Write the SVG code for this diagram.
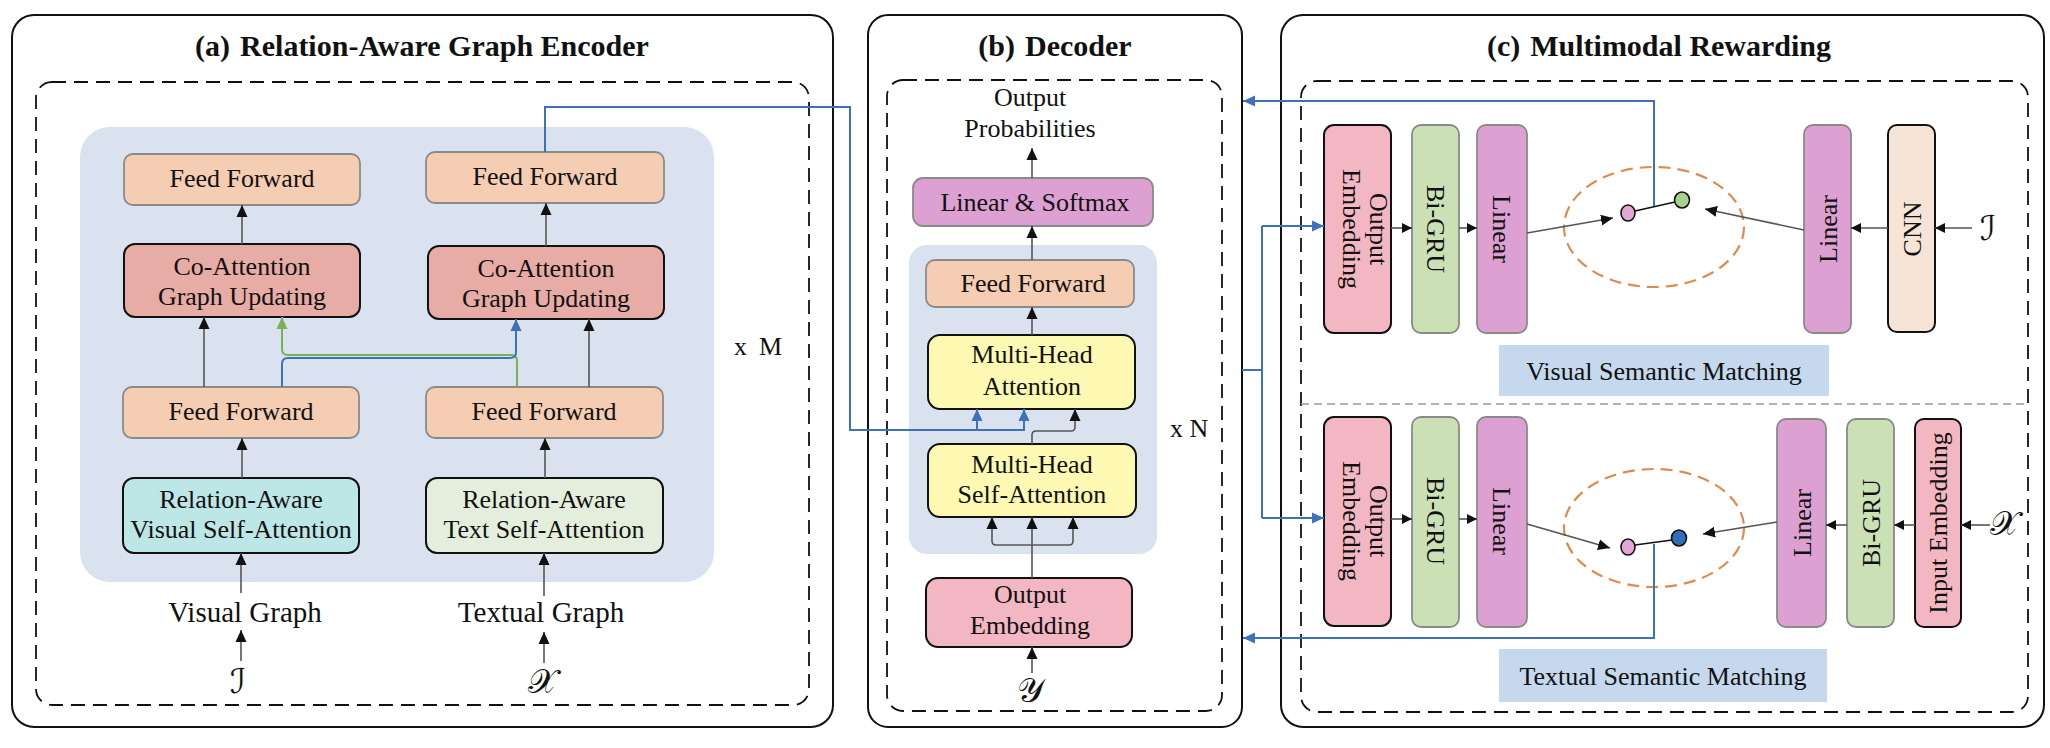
<svg xmlns="http://www.w3.org/2000/svg" width="2050" height="748" viewBox="0 0 2050 748">
<defs>
<style>
.t{font-family:"Liberation Serif","Times New Roman",serif;font-size:26px;fill:#111;text-anchor:middle}
.tl{font-family:"Liberation Serif","Times New Roman",serif;font-size:29px;fill:#111;text-anchor:middle}
.title{font-family:"Liberation Serif","Times New Roman",serif;font-size:30px;font-weight:bold;fill:#111;text-anchor:middle}
.m{font-family:"DejaVu Serif","DejaVu Sans","Noto Sans",serif;font-size:34px;fill:#111;text-anchor:middle}
.outer{fill:#fff;stroke:#111;stroke-width:2}
.dash{fill:none;stroke:#111;stroke-width:1.8;stroke-dasharray:14 8}
.sep{fill:none;stroke:#999;stroke-width:1.6;stroke-dasharray:8 5}
.bg{fill:#dae2f0}
.ff{fill:#f4cdb2;stroke:#8a8a8a;stroke-width:1.8}
.co{fill:#e8aca6;stroke:#111;stroke-width:2}
.rv{fill:#bde6e6;stroke:#111;stroke-width:2}
.rt{fill:#e4eedc;stroke:#111;stroke-width:2}
.ls{fill:#dda0d2;stroke:#8a8a8a;stroke-width:1.8}
.ye{fill:#fdf9b2;stroke:#111;stroke-width:2}
.oe{fill:#f3b7c3;stroke:#111;stroke-width:2}
.gru{fill:#cce0b6;stroke:#8a8a8a;stroke-width:1.8}
.cnn{fill:#f6e4d6;stroke:#111;stroke-width:2}
.lab{fill:#c5d8ee}
.ln{fill:none;stroke:#555;stroke-width:1.6}
.bl{fill:none;stroke:#3b72b9;stroke-width:2}
.gr{fill:none;stroke:#79b158;stroke-width:2}
.ell{fill:none;stroke:#e08b4d;stroke-width:2.2;stroke-dasharray:12 7}
.dot{stroke:#111;stroke-width:1.6}
</style>
<marker id="ab" viewBox="0 0 12 12" refX="12" refY="6" markerWidth="12" markerHeight="12" markerUnits="userSpaceOnUse" orient="auto"><path d="M0,0.5 L12,6 L0,11.5 z" fill="#111"/></marker>
<marker id="as" viewBox="0 0 10 10" refX="10" refY="5" markerWidth="10" markerHeight="10" markerUnits="userSpaceOnUse" orient="auto"><path d="M0,0 L10,5 L0,10 z" fill="#111"/></marker>
<marker id="abl" viewBox="0 0 12 12" refX="12" refY="6" markerWidth="12" markerHeight="12" markerUnits="userSpaceOnUse" orient="auto"><path d="M0,0.5 L12,6 L0,11.5 z" fill="#3b72b9"/></marker>
<marker id="agr" viewBox="0 0 12 12" refX="12" refY="6" markerWidth="12" markerHeight="12" markerUnits="userSpaceOnUse" orient="auto"><path d="M0,0.5 L12,6 L0,11.5 z" fill="#79b158"/></marker>
</defs>
<rect width="2050" height="748" fill="#fff"/>

<!-- Panel frames -->
<g id="panel-a">
<rect class="outer" x="12" y="15" width="821" height="712" rx="22"/>
<text class="title" x="422" y="56">(a)<tspan dx="10">Relation-Aware Graph Encoder</tspan></text>
<rect class="dash" x="36" y="82" width="773" height="623" rx="16"/>
<rect class="bg" x="80" y="127" width="634" height="455" rx="30"/>
<text class="t" x="734" y="355" style="text-anchor:start">x<tspan dx="12">M</tspan></text>
</g>
<g id="panel-b">
<rect class="outer" x="868" y="15" width="374" height="712" rx="20"/>
<text class="title" x="1055" y="56">(b)<tspan dx="10">Decoder</tspan></text>
<rect class="dash" x="887" y="80" width="335" height="631" rx="16"/>
<rect class="bg" x="909" y="245" width="248" height="309" rx="18"/>
<text class="t" x="1170" y="437" style="text-anchor:start">x N</text>
</g>
<g id="panel-c">
<rect class="outer" x="1281" y="15" width="763" height="712" rx="22"/>
<text class="title" x="1659" y="56">(c)<tspan dx="10">Multimodal Rewarding</tspan></text>
<rect class="dash" x="1301" y="81" width="727" height="631" rx="16"/>
<path class="sep" d="M1301,404 H2028"/>
</g>

<!-- Encoder nodes -->
<g id="enc-ff-top-left"><rect class="ff" x="124" y="154" width="236" height="51" rx="9"/><text class="t" x="242" y="187">Feed Forward</text></g>
<g id="enc-ff-top-right"><rect class="ff" x="426" y="152" width="238" height="51" rx="9"/><text class="t" x="545" y="185">Feed Forward</text></g>
<g id="enc-coatt-left"><rect class="co" x="124" y="244" width="236" height="73" rx="11"/><text class="t" x="242" y="275">Co-Attention</text><text class="t" x="242" y="305">Graph Updating</text></g>
<g id="enc-coatt-right"><rect class="co" x="428" y="246" width="236" height="73" rx="11"/><text class="t" x="546" y="277">Co-Attention</text><text class="t" x="546" y="307">Graph Updating</text></g>
<g id="enc-ff-mid-left"><rect class="ff" x="123" y="387" width="236" height="51" rx="9"/><text class="t" x="241" y="420">Feed Forward</text></g>
<g id="enc-ff-mid-right"><rect class="ff" x="426" y="387" width="237" height="51" rx="9"/><text class="t" x="544" y="420">Feed Forward</text></g>
<g id="enc-ra-visual"><rect class="rv" x="123" y="478" width="236" height="75" rx="11"/><text class="t" x="241" y="508">Relation-Aware</text><text class="t" x="241" y="538">Visual Self-Attention</text></g>
<g id="enc-ra-text"><rect class="rt" x="426" y="478" width="237" height="75" rx="11"/><text class="t" x="544" y="508">Relation-Aware</text><text class="t" x="544" y="538">Text Self-Attention</text></g>
<g id="enc-visual-graph"><text class="tl" x="245" y="622">Visual Graph</text></g>
<g id="enc-textual-graph"><text class="tl" x="541" y="622">Textual Graph</text></g>
<g id="enc-I"><text class="m" x="238" y="693">ℐ</text></g>
<g id="enc-X"><text class="m" x="542" y="693">𝒳</text></g>

<!-- Decoder nodes -->
<g id="dec-output-prob"><text class="t" x="1030" y="106">Output</text><text class="t" x="1030" y="137">Probabilities</text></g>
<g id="dec-linear-softmax"><rect class="ls" x="913" y="178" width="240" height="48" rx="10"/><text class="t" x="1035" y="211">Linear &amp; Softmax</text></g>
<g id="dec-ff"><rect class="ff" x="926" y="260" width="208" height="47" rx="9"/><text class="t" x="1033" y="292">Feed Forward</text></g>
<g id="dec-mha"><rect class="ye" x="928" y="335" width="207" height="74" rx="12"/><text class="t" x="1032" y="363">Multi-Head</text><text class="t" x="1032" y="395">Attention</text></g>
<g id="dec-mhsa"><rect class="ye" x="928" y="444" width="208" height="73" rx="12"/><text class="t" x="1032" y="473">Multi-Head</text><text class="t" x="1032" y="503">Self-Attention</text></g>
<g id="dec-output-emb"><rect class="oe" x="926" y="578" width="206" height="69" rx="12"/><text class="t" x="1030" y="603">Output</text><text class="t" x="1030" y="634">Embedding</text></g>
<g id="dec-Y"><text class="m" x="1030" y="702">𝒴</text></g>

<!-- Rewarding nodes: visual -->
<g id="v-output-emb"><rect class="oe" x="1324" y="125" width="67" height="208" rx="10"/><text class="t" transform="translate(1357.5,229) rotate(90)"><tspan x="0" y="-12.5">Output</tspan><tspan x="0" y="14.5">Embedding</tspan></text></g>
<g id="v-bigru"><rect class="gru" x="1412" y="125" width="47" height="208" rx="9"/><text class="t" transform="translate(1435.5,229) rotate(90)" y="9">Bi-GRU</text></g>
<g id="v-linear"><rect class="ls" x="1477" y="125" width="50" height="208" rx="9"/><text class="t" transform="translate(1502,229) rotate(90)" y="9">Linear</text></g>
<g id="v-linear-r"><rect class="ls" x="1804" y="125" width="47" height="208" rx="9"/><text class="t" transform="translate(1827.5,229) rotate(-90)" y="9">Linear</text></g>
<g id="v-cnn"><rect class="cnn" x="1888" y="125" width="47" height="207" rx="9"/><text class="t" transform="translate(1911.5,229) rotate(-90)" y="9">CNN</text></g>
<g id="v-I"><text class="m" x="1988" y="240">ℐ</text></g>
<g id="v-match"><ellipse class="ell" cx="1654" cy="227" rx="90" ry="60"/><path d="M1635,211 L1675,202" stroke="#111" stroke-width="1.5"/><ellipse class="dot" cx="1628" cy="213" rx="7" ry="8" fill="#e3a7d6"/><ellipse class="dot" cx="1682" cy="200" rx="7.5" ry="8" fill="#a9d18e"/></g>
<g id="v-label"><rect class="lab" x="1499" y="345" width="330" height="51"/><text class="t" x="1664" y="380">Visual Semantic Matching</text></g>

<!-- Rewarding nodes: textual -->
<g id="t-output-emb"><rect class="oe" x="1324" y="417" width="67" height="209" rx="10"/><text class="t" transform="translate(1357.5,521) rotate(90)"><tspan x="0" y="-12.5">Output</tspan><tspan x="0" y="14.5">Embedding</tspan></text></g>
<g id="t-bigru"><rect class="gru" x="1412" y="417" width="47" height="210" rx="9"/><text class="t" transform="translate(1435.5,521) rotate(90)" y="9">Bi-GRU</text></g>
<g id="t-linear"><rect class="ls" x="1477" y="417" width="50" height="210" rx="9"/><text class="t" transform="translate(1502,521) rotate(90)" y="9">Linear</text></g>
<g id="t-linear-r"><rect class="ls" x="1777" y="419" width="49" height="208" rx="9"/><text class="t" transform="translate(1801.5,523) rotate(-90)" y="9">Linear</text></g>
<g id="t-bigru-r"><rect class="gru" x="1847" y="419" width="47" height="208" rx="9"/><text class="t" transform="translate(1870.5,523) rotate(-90)" y="9">Bi-GRU</text></g>
<g id="t-input-emb"><rect class="oe" x="1915" y="419" width="46" height="208" rx="9"/><text class="t" transform="translate(1938,523) rotate(-90)" y="9">Input Embedding</text></g>
<g id="t-X"><text class="m" x="2004" y="535">𝒳</text></g>
<g id="t-match"><ellipse class="ell" cx="1654" cy="528" rx="90" ry="59"/><path d="M1635,545 L1672,540" stroke="#111" stroke-width="1.5"/><ellipse class="dot" cx="1628" cy="547" rx="7" ry="8" fill="#e3a7d6"/><ellipse class="dot" cx="1679" cy="538" rx="7.5" ry="8" fill="#2f6fb8"/></g>
<g id="t-label"><rect class="lab" x="1499" y="649" width="328" height="53"/><text class="t" x="1663" y="685">Textual Semantic Matching</text></g>

<!-- Connectors -->
<g id="connectors">
<path class="ln" d="M242,244 V205" marker-end="url(#ab)"/>
<path class="ln" d="M204,387 V317" marker-end="url(#ab)"/>
<path class="ln" d="M242,478 V438" marker-end="url(#ab)"/>
<path class="ln" d="M241,593 V553" marker-end="url(#ab)"/>
<path class="ln" d="M241,661 V630" marker-end="url(#ab)"/>
<path class="ln" d="M546,246 V203" marker-end="url(#ab)"/>
<path class="ln" d="M589,387 V319" marker-end="url(#ab)"/>
<path class="ln" d="M545,478 V438" marker-end="url(#ab)"/>
<path class="ln" d="M544,596 V553" marker-end="url(#ab)"/>
<path class="ln" d="M544,663 V632" marker-end="url(#ab)"/>
<path class="gr" d="M517,387 V361 Q517,355 511,355 H288 Q282,355 282,349 V317" marker-end="url(#agr)"/>
<path class="bl" d="M282,387 V364 Q282,358 288,358 H510 Q516,358 516,352 V319" marker-end="url(#abl)"/>
<path class="bl" d="M545,152 V107 H850 V430 H1024 V409" marker-end="url(#abl)"/>
<path class="bl" d="M977,430 V409" marker-end="url(#abl)"/>
<path class="ln" d="M1032,178 V148" marker-end="url(#ab)"/>
<path class="ln" d="M1032,260 V226" marker-end="url(#ab)"/>
<path class="ln" d="M1032,335 V307" marker-end="url(#ab)"/>
<path class="ln" d="M1032,444 V435 Q1032,431 1036,431 H1071 Q1075,431 1075,427 V409" marker-end="url(#ab)"/>
<path class="ln" d="M1032,578 V517" marker-end="url(#ab)"/>
<path class="ln" d="M1032,545 H996 Q992,545 992,541 V517" marker-end="url(#ab)"/>
<path class="ln" d="M1032,545 H1069 Q1073,545 1073,541 V517" marker-end="url(#ab)"/>
<path class="ln" d="M1032,673 V647" marker-end="url(#ab)"/>
<path class="bl" d="M1242,370 H1262 M1262,226 V518"/>
<path class="bl" d="M1262,226 H1324" marker-end="url(#abl)"/>
<path class="bl" d="M1262,518 H1324" marker-end="url(#abl)"/>
<path class="bl" d="M1654,206 V101 H1243" marker-end="url(#abl)"/>
<path class="bl" d="M1654,544 V638 H1243" marker-end="url(#abl)"/>
<path class="ln" d="M1391,228 H1412" marker-end="url(#as)"/>
<path class="ln" d="M1459,228 H1477" marker-end="url(#as)"/>
<path class="ln" d="M1888,228 H1851" marker-end="url(#as)"/>
<path class="ln" d="M1972,228 H1935" marker-end="url(#as)"/>
<path class="ln" d="M1527,233 L1613,218" marker-end="url(#ab)"/>
<path class="ln" d="M1804,230 L1705,209" marker-end="url(#ab)"/>
<path class="ln" d="M1391,519 H1412" marker-end="url(#as)"/>
<path class="ln" d="M1459,519 H1477" marker-end="url(#as)"/>
<path class="ln" d="M1990,525 H1961" marker-end="url(#as)"/>
<path class="ln" d="M1915,525 H1894" marker-end="url(#as)"/>
<path class="ln" d="M1847,525 H1826" marker-end="url(#as)"/>
<path class="ln" d="M1527,524 L1610,548" marker-end="url(#ab)"/>
<path class="ln" d="M1777,522 L1703,534" marker-end="url(#ab)"/>
</g>
</svg>
